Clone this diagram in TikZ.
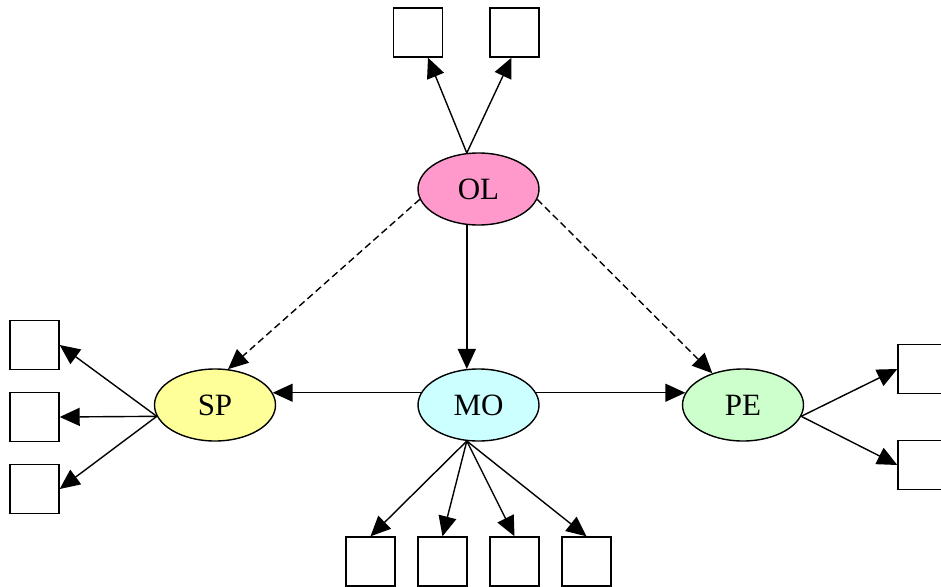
\documentclass[tikz,border=0pt]{standalone}
\usepackage{fontspec}
\setmainfont{Liberation Serif}
\usetikzlibrary{shapes.geometric,arrows.meta,calc}
\definecolor{olpink}{HTML}{FF99CC}
\definecolor{spyellow}{HTML}{FFFF99}
\definecolor{mocyan}{HTML}{CCFFFF}
\definecolor{pegreen}{HTML}{CCFFCC}
\tikzset{
  latent/.style={ellipse, draw, line width=1.4pt, minimum width=121pt, minimum height=72pt, inner sep=0pt, font=\fontsize{31}{36}\selectfont},
  indbox/.style={draw, line width=1.4pt, minimum width=49pt, minimum height=49pt, inner sep=0pt, fill=white},
  conn/.style={line width=1.4pt, -{Triangle[length=20pt,width=18pt]}},
  dconn/.style={conn, dash pattern=on 7pt off 4pt}
}
\begin{document}
\begin{tikzpicture}[x=1pt,y=-1pt]
\useasboundingbox (0,0) rectangle (941,586);
\node[latent, fill=olpink] (OL) at (478.5,189) {OL};
\node[latent, fill=mocyan] (MO) at (478.5,405) {MO};
\node[latent, fill=spyellow] (SP) at (215,405) {SP};
\node[latent, fill=pegreen] (PE) at (743,405) {PE};
% boxes
\node[indbox] (t1) at (418,32.5) {};
\node[indbox] (t2) at (514.5,32.5) {};
\node[indbox] (l1) at (34.5,345) {};
\node[indbox] (l2) at (34.5,417) {};
\node[indbox] (l3) at (34.5,489) {};
\node[indbox] (r1) at (922.5,369) {};
\node[indbox] (r2) at (922.5,465) {};
\node[indbox] (b1) at (370.5,561.5) {};
\node[indbox] (b2) at (442.5,561.5) {};
\node[indbox] (b3) at (514.5,561.5) {};
\node[indbox] (b4) at (586.5,561.5) {};
% connectors
\draw[conn] (OL.108) -- ($(t1.south)+(10,0)$);
\draw[conn] (OL.108) -- ($(t2.south)+(-3,0)$);
\draw[conn] (OL.252) -- (MO.108);
\draw[dconn] (OL.190) -- (SP.70);
\draw[dconn] (OL.350) -- (PE.134);
\draw[conn] (MO.168) -- (SP.12);
\draw[conn] (MO.12) -- (PE.168);
\draw[conn] (SP.191) -- (l1.east);
\draw[conn] (SP.191) -- (l2.east);
\draw[conn] (SP.191) -- (l3.east);
\draw[conn] (PE.349) -- (r1.west);
\draw[conn] (PE.349) -- (r2.west);
\draw[conn] (MO.252) -- (b1.north);
\draw[conn] (MO.252) -- (b2.north);
\draw[conn] (MO.252) -- (b3.north);
\draw[conn] (MO.252) -- (b4.north);
\end{tikzpicture}
\end{document}
